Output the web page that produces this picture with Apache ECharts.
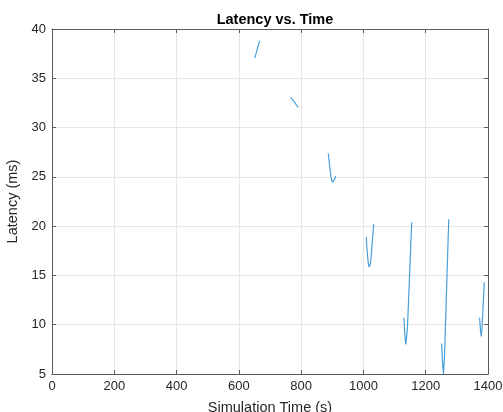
<!DOCTYPE html>
<html><head><meta charset="utf-8">
<script src="https://cdn.jsdelivr.net/npm/echarts@6/dist/echarts.min.js"></script>
<style>html,body{margin:0;padding:0;background:#fff}#c{width:503px;height:412px}</style>
</head><body><div id="c"></div>
<script>
// Simulation time (s); null separates disconnected segments
const times = [651,657,662,666,668, null,
  766,778,790, null,
  887,892,896,900,902,905,908,911, null,
  1009,1012,1015,1018,1020,1023,1027,1030,1033, null,
  1130,1133,1136,1138,1141,1145,1150,1155, null,
  1251,1254,1257,1260,1265,1270,1274, null,
  1373,1376,1378.5,1381,1384,1388];
// Latency (ms)
const latency = [37.06,37.7,38.3,38.7,38.8, null,
  33.1,32.6,32.05, null,
  27.4,26.0,25.0,24.45,24.3,24.4,24.8,25.1, null,
  18.9,17.5,16.4,15.85,15.7,16.2,17.8,19.1,20.2, null,
  10.7,9.0,8.0,7.8,9.5,12.5,16.5,20.4, null,
  8.1,6.2,5.0,6.5,11.5,16.7,20.7, null,
  10.7,9.4,8.8,9.8,11.6,14.3];
const xTicks = [0,200,400,600,800,1000,1200,1400];
const yTicks = [5,10,15,20,25,30,35,40];

const data = times.map((t,i)=> t===null ? '-' : [t, latency[i]]);
const axisCol = '#5a5a5a';
const font = 'Liberation Sans, Arial, sans-serif';
const chart = echarts.init(document.getElementById('c'), null, {renderer:'canvas'});
const baseX = {type:'value', min:0, max:1400, interval:200,
  axisLine:{show:true, onZero:false, lineStyle:{color:axisCol, width:1}},
  axisTick:{show:true, inside:true, length:4, lineStyle:{color:axisCol}},
  splitLine:{show:false}};
const baseY = {type:'value', min:5, max:40, interval:5,
  axisLine:{show:true, onZero:false, lineStyle:{color:axisCol, width:1}},
  axisTick:{show:true, inside:true, length:4, lineStyle:{color:axisCol}},
  splitLine:{show:false}};
chart.setOption({
  animation:false,
  backgroundColor:'#fff',
  title:{text:'Latency vs. Time', left:270, top:7, textAlign:'center',
    textStyle:{fontSize:14.5, fontWeight:'bold', color:'#000', fontFamily:font}},
  grid:{left:52, right:15, top:29, bottom:38, containLabel:false, outerBoundsMode:'none'},
  xAxis:[
    Object.assign({}, baseX, {position:'bottom',
      name:'Simulation Time (s)', nameLocation:'middle', nameGap:26,
      nameTextStyle:{fontSize:14.5, color:'#262626', fontFamily:font},
      axisLabel:{fontSize:13, color:'#262626', fontFamily:font, margin:6,
        formatter:v=>xTicks.includes(v)?String(v):''},
      splitLine:{show:true, lineStyle:{color:'#e6e6e6', width:1}}}),
    Object.assign({}, baseX, {position:'top', axisLabel:{show:false}})
  ],
  yAxis:[
    Object.assign({}, baseY, {position:'left',
      name:'Latency (ms)', nameLocation:'middle', nameGap:31,
      nameTextStyle:{fontSize:14.5, color:'#262626', fontFamily:font},
      axisLabel:{fontSize:13, color:'#262626', fontFamily:font, margin:6,
        formatter:v=>yTicks.includes(v)?String(v):''},
      splitLine:{show:true, lineStyle:{color:'#e6e6e6', width:1}}}),
    Object.assign({}, baseY, {position:'right', axisLabel:{show:false}})
  ],
  series:[{type:'line', data:data, showSymbol:false, connectNulls:false,
    clip:true, lineStyle:{color:'#4a9fd8', width:1.2}}]
});
</script></body></html>
